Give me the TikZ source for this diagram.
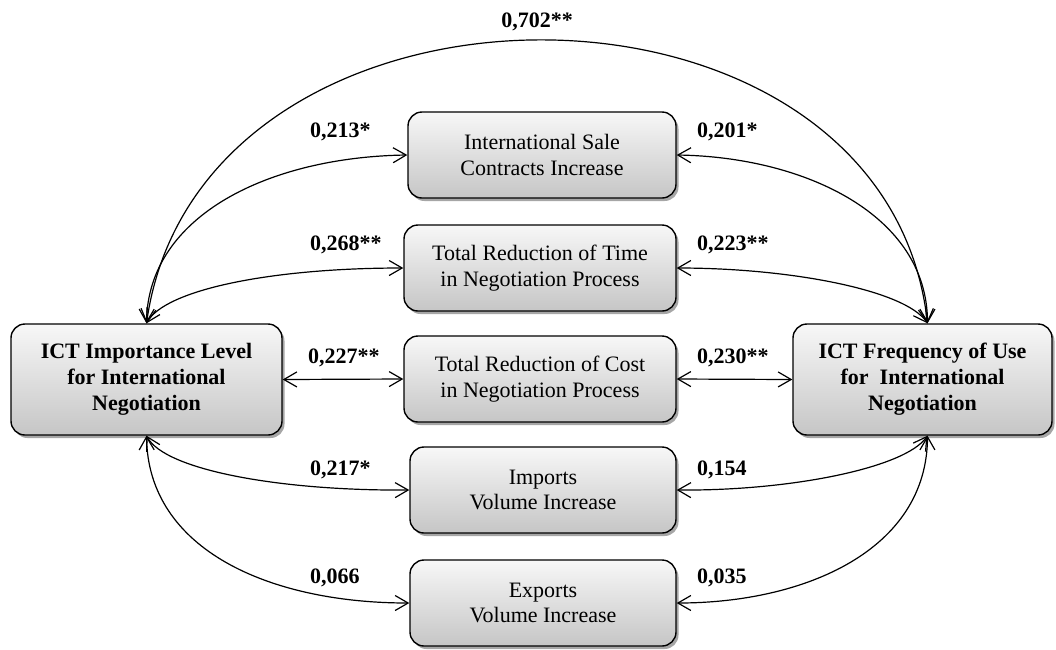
\documentclass[tikz,border=0pt]{standalone}
\usepackage{fontspec}
\setmainfont{Liberation Serif}
\usetikzlibrary{arrows.meta,shadows}
\begin{document}
\begin{tikzpicture}[x=1pt,y=-1pt,
  box/.style={draw=black, line width=1.4pt, rounded corners=14pt,
    top color=gray!6, bottom color=gray!45,
    drop shadow={shadow xshift=2.5pt, shadow yshift=-3pt, opacity=0.35, fill=black},
    align=center, inner sep=2pt, font=\fontsize{22}{25.5}\selectfont},
  bigbox/.style={box, font=\bfseries\fontsize{22}{26}\selectfont, minimum height=111pt},
  midbox/.style={box, minimum height=86pt},
  lbl/.style={font=\bfseries\fontsize{22}{26}\selectfont, inner sep=0pt, anchor=west},
  link/.style={line width=1.2pt,
    {Straight Barb[length=13pt,width=15pt]}-{Straight Barb[length=13pt,width=15pt]}}
]
\useasboundingbox (0,0) rectangle (1056,649);

\node[bigbox, minimum width=271pt] (L) at (146.5,379.5) {ICT Importance Level\\for International\\Negotiation};
\node[bigbox, minimum width=259pt] (R) at (922.5,379.5) {ICT Frequency of Use\\for\ \ International\\Negotiation};

\node[midbox, minimum width=268pt] (M1) at (542,155) {International Sale\\Contracts Increase};
\node[midbox, minimum width=272pt] (M2) at (540,268) {Total Reduction of Time\\in Negotiation Process};
\node[midbox, minimum width=272pt] (M3) at (540,379) {Total Reduction of Cost\\in Negotiation Process};
\node[midbox, minimum width=266pt] (M4) at (543,490) {Imports\\Volume Increase};
\node[midbox, minimum width=266pt] (M5) at (543,603) {Exports\\Volume Increase};

\coordinate (Lt) at (L.north);
\coordinate (Lb) at (L.south);
\coordinate (Rt) at ([xshift=5pt]R.north);
\coordinate (Rb) at ([xshift=5pt]R.south);

\draw[link] (Lt) .. controls (200,-54) and (885,-54) .. (Rt);
\draw[link] (Lt) .. controls (148,215) and (270,157) .. (M1.west);
\draw[link] (Lt) .. controls (165,290) and (270,268) .. (M2.west);
\draw[link] (L.east) -- (M3.west);
\draw[link] (Lb) .. controls (165,470) and (280,491) .. (M4.west);
\draw[link] (Lb) .. controls (148,550) and (270,603) .. (M5.west);

\draw[link] (Rt) .. controls (927,215) and (805,157) .. (M1.east);
\draw[link] (Rt) .. controls (905,290) and (790,268) .. (M2.east);
\draw[link] (M3.east) -- (R.west);
\draw[link] (Rb) .. controls (905,468) and (790,491) .. (M4.east);
\draw[link] (Rb) .. controls (927,550) and (805,603) .. (M5.east);

\node[lbl, anchor=center] (c702) at (537,22) {0,702**};
\node[lbl] (c213) at (310,132) {0,213*};
\node[lbl] (c268) at (310,245) {0,268**};
\node[lbl] (c227) at (308,358) {0,227**};
\node[lbl] (c217) at (310,470) {0,217*};
\node[lbl] (c066) at (310,578) {0,066};
\node[lbl] (c201) at (697,132) {0,201*};
\node[lbl] (c223) at (697,245) {0,223**};
\node[lbl] (c230) at (697,358) {0,230**};
\node[lbl] (c154) at (697,470) {0,154};
\node[lbl] (c035) at (697,578) {0,035};
\end{tikzpicture}
\end{document}
